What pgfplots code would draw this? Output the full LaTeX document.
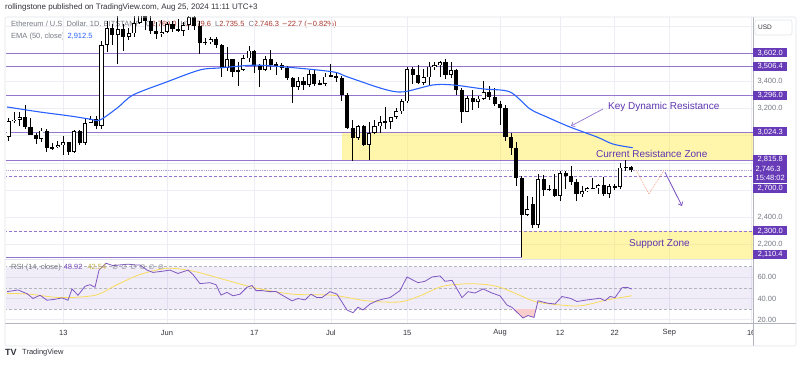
\documentclass[border=0pt]{standalone}
\usepackage{pgfplots}
\pgfplotsset{compat=1.18}
\usepackage{pgfplotstable}
\usepackage{fontspec}
\setmainfont{Liberation Sans}
\newfontfamily\djv{DejaVu Sans}
\usetikzlibrary{arrows.meta}
\newcommand\fs[1]{\fontsize{#1}{#1}\selectfont}
\definecolor{tvpurple}{RGB}{103,58,183}
\definecolor{lvl}{RGB}{149,117,205}
\definecolor{zone}{RGB}{255,235,59}
\definecolor{emablue}{RGB}{41,98,255}
\definecolor{rsip}{RGB}{126,87,194}
\definecolor{rsiy}{RGB}{249,219,90}
\definecolor{gridc}{RGB}{236,238,243}
\definecolor{tvgray}{RGB}{120,123,134}
\definecolor{legred}{RGB}{170,55,45}
\definecolor{hdr}{RGB}{50,50,60}
\definecolor{framec}{RGB}{224,227,235}
\definecolor{sepc}{RGB}{178,181,190}
\definecolor{osold}{RGB}{250,205,205}
\definecolor{proj}{RGB}{245,165,135}
\definecolor{annot}{RGB}{94,53,177}

\pgfplotstableread{
d O H L C
-29 2988 3130 2958 3103
-28 3103 3170 3090 3117
-27 3117 3175 3070 3137
-26 3137 3220 3050 3063
-25 3063 3130 3000 3005
-24 3005 3020 2935 2975
-23 2975 3055 2950 3036
-22 3036 3050 2880 2910
-21 2910 2945 2890 2912
-20 2912 2960 2905 2930
-19 2930 2995 2860 2950
-18 2950 2955 2860 2882
-17 2882 3040 2868 3035
-16 3035 3040 2930 2945
-15 2945 3120 2930 3093
-14 3093 3145 3090 3123
-13 3123 3145 3050 3071
-12 3071 3690 3050 3662
-11 3662 3840 3610 3789
-10 3789 3815 3660 3736
-9 3736 3940 3520 3780
-8 3780 3815 3620 3725
-7 3725 3785 3700 3748
-6 3748 3900 3720 3826
-5 3826 3975 3820 3892
-4 3892 3930 3770 3842
-3 3842 3885 3740 3766
-2 3766 3830 3705 3747
-1 3747 3845 3725 3760
0 3760 3835 3750 3815
1 3815 3840 3755 3780
2 3780 3850 3760 3768
3 3768 3830 3730 3810
4 3810 3890 3775 3866
5 3866 3880 3775 3800
6 3800 3840 3600 3680
7 3680 3715 3665 3683
8 3683 3720 3670 3706
9 3706 3720 3640 3666
10 3666 3670 3430 3497
11 3497 3650 3470 3558
12 3558 3560 3430 3468
13 3468 3535 3360 3480
14 3480 3590 3470 3565
15 3565 3655 3535 3622
16 3622 3625 3455 3511
17 3511 3520 3355 3482
18 3482 3585 3470 3561
19 3561 3625 3480 3515
20 3515 3535 3445 3518
21 3518 3530 3480 3495
22 3495 3510 3410 3418
23 3418 3430 3240 3355
24 3355 3430 3330 3398
25 3398 3430 3335 3372
26 3372 3480 3355 3448
27 3448 3490 3365 3379
28 3379 3405 3370 3378
29 3378 3455 3360 3432
30 3432 3525 3425 3439
31 3439 3465 3395 3424
32 3424 3435 3250 3294
33 3294 3310 3050 3058
34 3058 3113 2810 2980
35 2980 3080 2970 3068
36 3068 3075 2920 2930
37 2930 3100 2820 3019
38 3019 3110 3010 3066
39 3066 3145 3020 3101
40 3101 3210 3050 3098
41 3098 3135 3050 3133
42 3133 3200 3120 3176
43 3176 3270 3160 3250
44 3250 3500 3240 3485
45 3485 3500 3375 3445
46 3445 3515 3380 3385
47 3385 3490 3370 3425
48 3425 3540 3370 3505
49 3505 3540 3480 3518
50 3518 3545 3425 3536
51 3536 3560 3415 3442
52 3442 3540 3420 3480
53 3480 3490 3300 3336
54 3336 3345 3090 3174
55 3174 3290 3170 3274
56 3274 3330 3190 3247
57 3247 3290 3200 3270
58 3270 3400 3260 3320
59 3320 3365 3260 3280
60 3280 3350 3215 3230
61 3230 3250 3080 3200
62 3200 3220 2960 2990
63 2990 3015 2860 2905
64 2905 2950 2630 2688
65 2688 2700 2110 2420
66 2420 2560 2410 2460
67 2500 2550 2320 2345
68 2345 2720 2320 2680
69 2680 2710 2560 2600
70 2600 2640 2590 2610
71 2610 2720 2550 2555
72 2555 2740 2520 2722
73 2722 2740 2610 2703
74 2703 2780 2640 2660
75 2660 2680 2520 2570
76 2570 2630 2550 2593
77 2593 2625 2585 2615
78 2615 2690 2605 2612
79 2612 2645 2570 2637
80 2637 2695 2555 2573
81 2573 2645 2540 2630
82 2630 2645 2600 2622
83 2622 2795 2610 2765
84 2765 2820 2740 2768
85 2769 2779.6 2735.5 2746.3
}\ohlc

\pgfplotstableread{
d v
-29.3 3209
-23.3 3172
-17.8 3143
-14.1 3120
-12.3 3113
-9.0 3205
-6.2 3297
0 3393
6 3480
9.7 3495
16.1 3515
22.2 3500
30.4 3466
33 3430
39.6 3341
43.2 3319
48.7 3370
52.4 3370
57.9 3341
62.8 3319
66.5 3194
69.6 3135
73.8 3062
78.8 2988
81.7 2937
85.3 2910
}\ema

\pgfplotstableread{
d r
-29.30 46.4
-27.29 48
-25.64 44.5
-24.54 40
-23.26 43
-21.98 38.3
-20.51 39.2
-19.23 40.5
-18.13 38.3
-17.40 49
-16.30 43
-15.02 51.5
-14.10 53
-13.19 50.6
-12.45 66.8
-11.17 73.3
-9.89 71
-8.61 71.7
-7.14 72.4
-5.86 71.7
-4.95 71.7
-3.66 66.8
-2.56 64.6
-0.73 65.8
0.55 66.8
2.01 63.6
3.85 66.8
4.76 62.6
6.04 54
7.88 54.9
8.97 53
9.89 43.2
10.99 45.7
12.09 42.5
13.37 44
14.65 50.6
15.57 52.2
16.30 47.4
17.40 47.4
18.86 46.4
19.96 46.6
21.06 43.2
22.89 37.7
23.99 39.9
25.27 38.6
26.37 44
27.47 40.8
28.39 40.8
29.85 46.4
31.14 44
32.97 29
34.07 26.5
34.98 31.7
35.90 29.1
37.18 34.7
38.46 37.8
39.56 39.4
40.84 40.8
42.67 47.4
43.96 60.3
45.97 54.9
47.25 56.2
48.53 60.3
50.00 61.3
50.92 56.2
52.20 57.1
54.03 40.8
55.13 46.4
56.41 45.1
57.88 49
59.52 45.1
60.99 42.5
62.27 33.8
63.19 31.5
65.20 21.5
66.12 23.8
67.22 22
67.95 37.8
69.60 35.6
71.06 34.7
72.34 41.8
73.81 40.2
75.09 37.1
76.92 38.6
78.02 39.3
79.30 40.2
80.22 37.8
81.14 41.8
82.05 40.8
83.33 50.1
84.25 50.5
85.16 48.92
}\rsi

\pgfplotstableread{
d m
-29.3 44.8
-25.09 44
-19.60 40.8
-13.19 43
-9.16 53
-4.95 62.6
0 68.5
4.76 65.8
10.99 57.1
16.48 49.6
23.08 44
30.40 43
36.63 37.7
42.67 36.7
46.34 42.5
50.55 51.5
56.04 53.9
60.99 50.6
67.03 37.7
70.70 34.5
75.64 33
80.59 38.6
85.16 42.54
}\rsima

\begin{document}
\begin{tikzpicture}
\path[use as bounding box] (0,0) rectangle (800pt,364pt);
\fill[white] (0,0) rectangle (800pt,364pt);

% header and legends (under the candles)
\begin{scope}[x=1pt,y=-1pt,yshift=364pt]
\node[anchor=west, inner sep=0pt, font=\fs{8}, text=hdr] at (5,7.5)
  {rollingstone published on TradingView.com, Aug 25, 2024 11:11 UTC+3};
\node[anchor=west, inner sep=0pt, font=\fs{7.5}, text=tvgray] at (11,25)
  {Ethereum / U.S. Dollar, 1D, BITSTAMP\hspace{3pt}
   O\textcolor{legred}{2,769.0}\hspace{2pt} H\textcolor{legred}{2,779.6}\hspace{2pt}
   L\textcolor{legred}{2,735.5}\hspace{2pt} C\textcolor{legred}{2,746.3\hspace{3pt}\hbox{\djv\fs{7}−}22.7 (\hbox{\djv\fs{7}−}0.82\%)}};
\node[anchor=west, inner sep=0pt, font=\fs{7.5}, text=tvgray] at (11,37)
  {EMA (50, close)\hspace{3pt}\textcolor{emablue}{2,912.5}};
\end{scope}

% ---------------- price pane ----------------
\begin{axis}[
  at={(6pt,105pt)}, anchor=south west, scale only axis,
  width=747pt, height=242pt,
  xmin=-29.49, xmax=107.33, ymin=2095, ymax=3868,
  axis line style={draw=none}, major tick length=0pt,
  xtick={-19,0,16,30,44,61,72,82,92,107}, xticklabels={},
  ytick={2200,2400,2600,2800,3000,3200,3400,3600,3800},
  yticklabels={{2,200.0},{2,400.0},{},{},{},{3,200.0},{3,400.0},{},{}},
  yticklabel pos=right,
  y tick label style={anchor=west, xshift=1pt, font=\fs{7.5}, text=tvgray},
  grid=major, grid style={gridc, line width=0.5pt},
  clip mode=individual,
]
\addplot[lvl, line width=0.7pt] coordinates {(-40,2110.4) (65,2110.4)};
\addplot[fill=zone, fill opacity=0.42, draw=none] coordinates {(32.05,3024.3) (110,3024.3) (110,2815.8) (32.05,2815.8)};
\addplot[fill=zone, fill opacity=0.42, draw=none] coordinates {(65.0,2300) (110,2300) (110,2095) (65.0,2095)};
\addplot[lvl, line width=0.7pt] coordinates {(-40,3602) (120,3602)};
\addplot[lvl, line width=0.7pt] coordinates {(-40,3506.4) (120,3506.4)};
\addplot[lvl, line width=0.7pt] coordinates {(-40,3296) (120,3296)};
\addplot[lvl, line width=0.7pt] coordinates {(-40,3024.3) (120,3024.3)};
\addplot[lvl, line width=0.7pt] coordinates {(-40,2815.8) (120,2815.8)};
\addplot[lvl, line width=0.6pt, dash pattern=on 3pt off 2pt] coordinates {(-40,2700) (120,2700)};
\addplot[lvl, line width=0.6pt, dash pattern=on 3pt off 2pt] coordinates {(-40,2300) (120,2300)};
\addplot[lvl!70, line width=0.6pt, dash pattern=on 0.8pt off 1pt] coordinates {(-40,2746.3) (120,2746.3)};
% wicks
\addplot[draw=none, mark=none, error bars/.cd, y dir=both, y explicit, error mark=none,
  error bar style={draw=black, solid, line width=0.8pt}]
  table[x=d, y expr={(\thisrow{H}+\thisrow{L})/2}, y error expr={(\thisrow{H}-\thisrow{L})/2}] {\ohlc};
% bodies
\addplot[draw=none, mark=none, error bars/.cd, y dir=both, y explicit, error mark=none,
  error bar style={draw=black, solid, line width=4.1pt, line cap=butt}]
  table[x=d, y expr={(\thisrow{O}+\thisrow{C})/2}, y error expr={max(abs(\thisrow{C}-\thisrow{O})/2,4)}] {\ohlc};
% white inner of rising candles
\addplot[draw=none, mark=none, error bars/.cd, y dir=both, y explicit, error mark=none,
  error bar style={draw=white, solid, line width=2.4pt, line cap=butt}]
  table[x=d, y expr={(\thisrow{O}+\thisrow{C})/2}, y error expr={(\thisrow{C}>\thisrow{O})*max(abs(\thisrow{C}-\thisrow{O})/2-6,0)}] {\ohlc};
% EMA 50
\addplot[emablue, line width=1.1pt, smooth, mark=none] table[x=d, y=v] {\ema};
% annotations
\addplot[lvl, line width=0.7pt, mark=none, -{Straight Barb[length=3pt,width=5pt]}] coordinates {(79.85,3193.9) (73.99,3069.3)};
\addplot[proj, line width=0.7pt, mark=none, dash pattern=on 1pt off 1pt] coordinates {(85.9,2747) (88.28,2571) (91.03,2747)};
\addplot[rsip, line width=0.8pt, mark=none, -{Straight Barb[length=3pt,width=5pt]}] coordinates {(91.2,2732) (94.32,2483)};
\end{axis}

% ---------------- RSI pane ----------------
\begin{axis}[
  at={(6pt,41pt)}, anchor=south west, scale only axis,
  width=747pt, height=64pt,
  xmin=-29.49, xmax=107.33, ymin=16.76, ymax=77.3,
  axis line style={draw=none}, major tick length=0pt,
  xtick={-19,0,16,30,44,61,72,82,92,107},
  xticklabels={13,Jun,17,Jul,15,Aug,12,22,Sep,16},
  x tick label style={anchor=center, yshift=-10pt, font=\fs{7.5}, text=hdr},
  ytick={20,40,60}, yticklabels={20.00,40.00,60.00},
  yticklabel pos=right,
  y tick label style={anchor=west, xshift=1pt, font=\fs{7.5}, text=tvgray},
  grid=major, grid style={gridc, line width=0.5pt},
]
\addplot[fill=rsip, fill opacity=0.1, draw=none] coordinates {(-40,30) (120,30) (120,70) (-40,70)};
\addplot[sepc, line width=0.5pt, dash pattern=on 3pt off 2pt] coordinates {(-40,70) (120,70)};
\addplot[sepc, line width=0.5pt, dash pattern=on 3pt off 2pt] coordinates {(-40,50) (120,50)};
\addplot[sepc, line width=0.5pt, dash pattern=on 3pt off 2pt] coordinates {(-40,30) (120,30)};
\addplot[fill=osold, draw=none] coordinates {(63.49,30) (65.20,21.5) (66.12,23.8) (67.22,22) (67.59,30)};
\addplot[rsiy, line width=0.8pt, smooth, mark=none] table[x=d, y=m] {\rsima};
\addplot[rsip, line width=0.8pt, mark=none] table[x=d, y=r] {\rsi};
\end{axis}

% ---------------- overlays in pixel coordinates ----------------
\begin{scope}[x=1pt,y=-1pt,yshift=364pt]
\fill[white] (753.4,324) rectangle (795.6,345.6);
\draw[framec, line width=0.6pt] (5,259.5) -- (753,259.5);
\draw[sepc, line width=0.6pt] (5,323.5) -- (796,323.5);
\draw[sepc, line width=0.6pt] (753,17) -- (753,346);
\draw[framec, line width=0.6pt, rounded corners=2pt] (5,17) rectangle (796,346);

% RSI legend
\node[anchor=west, inner sep=0pt, font=\fs{7.5}, text=tvgray] at (11,268)
  {RSI (14, close)\hspace{3pt}\textcolor{rsip}{48.92}\hspace{5pt}\textcolor{rsiy!80!black}{42.54}\hspace{6pt}{\djv\fs{6.5}∅\hspace{3.5pt}∅\hspace{3.5pt}∅\hspace{3.5pt}∅\hspace{3.5pt}∅\hspace{3.5pt}∅}};

% annotations text
\node[anchor=west, inner sep=0pt, font=\fs{10}, text=annot] at (608,107) {Key Dynamic Resistance};
\node[anchor=west, inner sep=0pt, font=\fs{10}, text=annot] at (596,154) {Current Resistance Zone};
\node[anchor=west, inner sep=0pt, font=\fs{10}, text=annot] at (629,244) {Support Zone};

% USD box
\draw[framec, line width=0.6pt, rounded corners=2pt, fill=white] (755,20) rectangle (792,35);
\node[anchor=west, inner sep=0pt, font=\fs{6.5}, text=hdr] at (758,27.5) {USD};

% level labels
\tikzset{plab/.style={anchor=west, fill=tvpurple, text=white, font=\fs{7.5}, inner sep=0pt, minimum width=34pt, minimum height=9pt}}
\node[plab] at (753,53) {3,602.0};
\node[plab] at (753,66.4) {3,506.4};
\node[plab] at (753,95.1) {3,296.0};
\node[plab] at (753,132) {3,024.3};
\node[plab] at (753,159.5) {2,815.8};
\node[plab, minimum height=19pt, align=left] at (753,173.5) {2,746.3\\[1.5pt]15:48:02};
\node[plab] at (753,188.5) {2,700.0};
\node[plab] at (753,231) {2,300.0};
\node[plab] at (753,254.5) {2,110.4};

% TradingView logo
\node[anchor=west, inner sep=0pt, font=\bfseries\fs{9}, text=hdr] at (5,352.5) {TV};
\node[anchor=west, inner sep=0pt, font=\fs{7.5}, text=hdr] at (22,352.5) {TradingView};
\end{scope}
\end{tikzpicture}
\end{document}
